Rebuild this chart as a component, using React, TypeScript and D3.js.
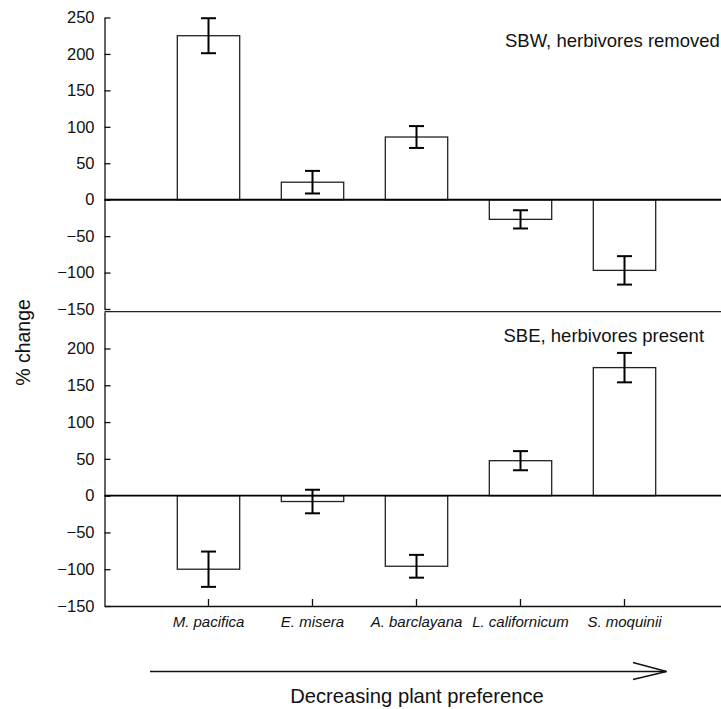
import React, { useEffect, useRef } from 'react'
import * as d3 from 'd3'

// plant species, ordered by decreasing preference
const species = ['M. pacifica', 'E. misera', 'A. barclayana', 'L. californicum', 'S. moquinii']

// SBW, herbivores removed
const sbwChange = [225, 24, 86, -27, -97]
const sbwError = [24, 15.5, 15, 12.5, 19.5]

// SBE, herbivores present
const sbeChange = [-100, -8, -96, 47.5, 174]
const sbeError = [24, 16, 15.5, 13, 20]

const yDomain = [-150, 250]
const topTicks = [250, 200, 150, 100, 50, 0, -50, -100, -150]
const bottomTicks = [200, 150, 100, 50, 0, -50, -100, -150]

const FONT = '"Liberation Sans", Arial, Helvetica, sans-serif'

const App = () => {
  const ref = useRef<SVGSVGElement>(null)

  useEffect(() => {
    const svg = d3.select(ref.current)
    svg.selectAll('*').remove()

    const width = 721
    const axisX = 104.5

    const xScale = d3.scaleBand<string>()
        .domain(species)
        .range([axisX, axisX + 624])
        .paddingInner(0.4)
        .paddingOuter(0.7)

    const panels = [
      { values: sbwChange, errors: sbwError, label: 'SBW, herbivores removed',
        range: [309, 17.5], ticks: topTicks, labelX: 505, labelY: 47, zeroWidth: 2 },
      { values: sbeChange, errors: sbeError, label: 'SBE, herbivores present',
        range: [606, 311.7], ticks: bottomTicks, labelX: 503.5, labelY: 341.5, zeroWidth: 1.8 }
    ]

    panels.forEach((panel, pi) => {
      const yScale = d3.scaleLinear().domain(yDomain).range(panel.range)
      const g = svg.append('g')

      if (pi === 1) {
        // top frame of the lower panel
        g.append('line')
            .attr('x1', axisX).attr('x2', width)
            .attr('y1', yScale(250)).attr('y2', yScale(250))
            .attr('stroke', '#222').attr('stroke-width', 1.3)
      }

      const yAxis = d3.axisLeft(yScale)
          .tickValues(panel.ticks)
          .tickSizeInner(-6)
          .tickSizeOuter(0)
          .tickPadding(10)
      const ay = g.append('g')
          .attr('transform', `translate(${axisX}, 0)`)
          .call(yAxis)
      ay.selectAll('text')
          .attr('font-size', 16.5)
          .attr('font-family', FONT)
          .attr('fill', '#111')
      ay.selectAll('path, line').attr('stroke', '#111').attr('stroke-width', 1.3)

      const y0 = yScale(0)
      g.selectAll('rect.bar')
          .data(panel.values).enter()
        .append('rect')
          .attr('class', 'bar')
          .attr('x', (d, i) => xScale(species[i]))
          .attr('width', xScale.bandwidth())
          .attr('y', d => Math.min(yScale(d), y0))
          .attr('height', d => Math.abs(yScale(d) - y0))
          .attr('fill', '#fff')
          .attr('stroke', '#222')
          .attr('stroke-width', 1.3)

      g.append('line')
          .attr('x1', axisX).attr('x2', width)
          .attr('y1', y0).attr('y2', y0)
          .attr('stroke', '#000').attr('stroke-width', panel.zeroWidth)

      const cap = 7.5
      const err = g.selectAll('g.err')
          .data(panel.values).enter()
        .append('g')
          .attr('class', 'err')
          .attr('stroke', '#000')
          .attr('stroke-width', 2)
      err.append('line')
          .attr('x1', (d, i) => xScale(species[i]) + xScale.bandwidth() / 2)
          .attr('x2', (d, i) => xScale(species[i]) + xScale.bandwidth() / 2)
          .attr('y1', (d, i) => yScale(d - panel.errors[i]))
          .attr('y2', (d, i) => yScale(d + panel.errors[i]))
      ;[-1, 1].forEach(sign => {
        err.append('line')
            .attr('x1', (d, i) => xScale(species[i]) + xScale.bandwidth() / 2 - cap)
            .attr('x2', (d, i) => xScale(species[i]) + xScale.bandwidth() / 2 + cap)
            .attr('y1', (d, i) => yScale(d + sign * panel.errors[i]))
            .attr('y2', (d, i) => yScale(d + sign * panel.errors[i]))
      })

      g.append('text')
          .attr('x', panel.labelX)
          .attr('y', panel.labelY)
          .attr('font-size', 18.5)
          .attr('font-family', FONT)
          .attr('fill', '#111')
          .text(panel.label)

      if (pi === 1) {
        const xAxis = d3.axisBottom(xScale)
            .tickSizeInner(-7)
            .tickSizeOuter(0)
            .tickPadding(10.5)
        const ax = g.append('g')
            .attr('transform', `translate(0, ${yScale(-150)})`)
            .call(xAxis)
        ax.selectAll('text')
            .attr('font-size', 15)
            .attr('font-style', 'italic')
            .attr('font-family', FONT)
            .attr('fill', '#111')
        ax.selectAll('path, line').attr('stroke', '#111').attr('stroke-width', 1.3)
      }
    })

    // y axis title
    svg.append('text')
        .attr('transform', 'translate(29.5, 342.5) rotate(-90)')
        .attr('text-anchor', 'middle')
        .attr('font-size', 19.5)
        .attr('font-family', FONT)
        .attr('fill', '#111')
        .text('% change')

    // preference arrow
    const arrowY = 671.5
    svg.append('line')
        .attr('x1', 150).attr('x2', 666.5)
        .attr('y1', arrowY).attr('y2', arrowY)
        .attr('stroke', '#111').attr('stroke-width', 1.4)
    svg.append('polyline')
        .attr('points', `633,${arrowY - 9} 666.5,${arrowY} 633,${arrowY + 8}`)
        .attr('fill', 'none')
        .attr('stroke', '#111').attr('stroke-width', 1.4)

    svg.append('text')
        .attr('x', 417)
        .attr('y', 703)
        .attr('text-anchor', 'middle')
        .attr('font-size', 20.2)
        .attr('font-family', FONT)
        .attr('fill', '#111')
        .text('Decreasing plant preference')
  }, [])

  return (
    <svg ref={ref} width={721} height={709}
      style={{ position: 'absolute', left: 0, top: 0, background: '#fff' }} />
  )
}

export default App
